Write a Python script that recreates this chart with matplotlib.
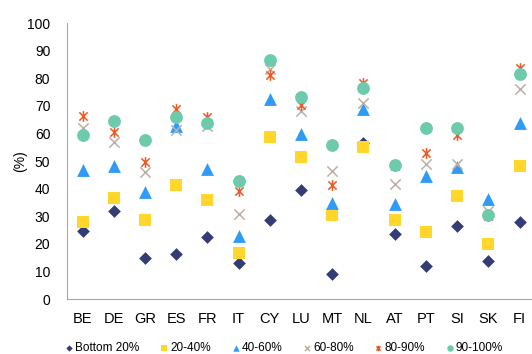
import matplotlib.pyplot as plt
from matplotlib.path import Path

plt.rcParams['font.family'] = ['Liberation Sans', 'DejaVu Sans']

countries = ['BE', 'DE', 'GR', 'ES', 'FR', 'IT', 'CY', 'LU', 'MT', 'NL', 'AT', 'PT', 'SI', 'SK', 'FI']
bottom_20 = [24.5, 32, 15, 16.5, 22.5, 13, 28.5, 39.5, 9, 56.5, 23.5, 12, 26.5, 13.8, 28]
q20_40 = [27.8, 36.5, 28.8, 41.3, 35.8, 16.8, 58.8, 51.3, 30.3, 55, 28.5, 24.3, 37.2, 20, 48.3]
q40_60 = [46.8, 48.3, 38.8, 62.7, 47.2, 22.9, 72.5, 59.7, 34.7, 68.7, 34.4, 44.6, 47.9, 36.2, 63.8]
q60_80 = [62, 57, 45.9, 61.2, 62.7, 30.7, 83.2, 68.1, 46.5, 71.1, 41.7, 48.9, 48.9, 32, 76.1]
q80_90 = [66.3, 60.4, 49.5, 68.8, 65.8, 39.2, 81, 70.3, 41.3, 78.4, 48.3, 53.1, 59.4, 30.2, 83.8]
q90_100 = [59.4, 64.6, 57.6, 66, 63.8, 42.8, 86.5, 73.1, 55.9, 76.4, 48.7, 62, 61.8, 30.6, 81.6]

# excel-style star: x plus vertical bar
star = Path([(-1, -1), (1, 1), (-1, 1), (1, -1), (0, -1.3), (0, 1.3)],
            [Path.MOVETO, Path.LINETO, Path.MOVETO, Path.LINETO, Path.MOVETO, Path.LINETO])

series = [
    ('Bottom 20%', bottom_20, 'D', '#343D73', 42),
    ('20-40%', q20_40, 's', '#FFD629', 80),
    ('40-60%', q40_60, '^', '#2E9BF7', 85),
    ('60-80%', q60_80, 'x', '#BBAFA6', 55),
    ('80-90%', q80_90, star, '#EE5A24', 60),
    ('90-100%', q90_100, 'o', '#6DCAAA', 85),
]

fig = plt.figure(figsize=(5.32, 3.54), dpi=100)
ax = fig.add_axes([0.126, 0.155, 0.874, 0.78])
x = list(range(len(countries)))
for name, vals, marker, color, size in series:
    lw = 1.1 if marker in ('x',) or marker is star else 0
    ax.scatter(x, vals, marker=marker, s=size, color=color, linewidths=lw, label=name, zorder=3)

ax.set_xlim(-0.5, 14.4)
ax.set_ylim(0, 100)
ax.set_yticks(range(0, 101, 10))
ax.set_xticks(x)
ax.set_xticklabels(countries)
ax.tick_params(axis='y', length=0, labelsize=10, pad=12)
ax.tick_params(axis='x', length=0, labelsize=10.5, pad=9)
for side in ('top', 'right'):
    ax.spines[side].set_visible(False)
for side in ('left', 'bottom'):
    ax.spines[side].set_color('#A6A6A6')
ax.set_ylabel('(%)', fontsize=10, labelpad=0)

fig.legend(loc='center', bbox_to_anchor=(0.532, 0.018), ncol=6, frameon=False,
           fontsize=8.5, handletextpad=0.0, columnspacing=1.6, markerscale=0.5,
           handlelength=1.0, borderaxespad=0, borderpad=0)

fig.savefig('out.png', dpi=100)
